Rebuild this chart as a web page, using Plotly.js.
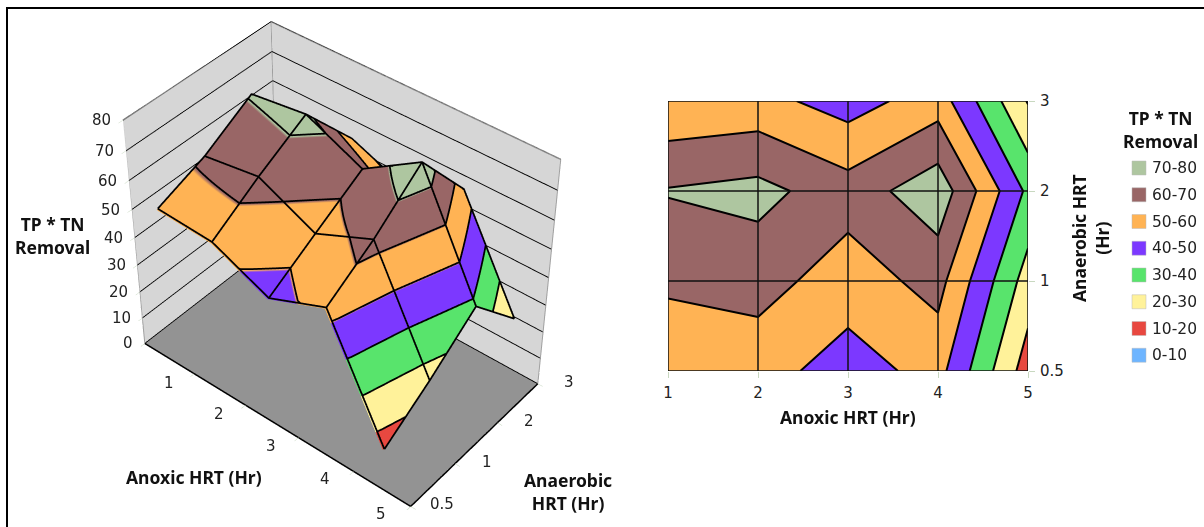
<!DOCTYPE html>
<html><head><meta charset="utf-8">
<script src="https://cdn.plot.ly/plotly-3.0.1.min.js"></script>
<style>html,body{margin:0;padding:0;background:#fff;overflow:hidden;width:1204px;height:527px}#chart{position:absolute;left:0;top:-500px;width:1204px;height:1527px}</style>
</head><body><div id="chart"></div>
<script>
const anoxic = [1, 2, 3, 4, 5];
const anaerobicLabels = ['0.5', '1', '2', '3'];
const anaerobicPos = [0, 1, 2, 3];
const row05 = [55, 54, 45.5, 53.6, 15];
const row1 = [61.2, 64, 54.9, 63.5, 25.5];
const row2 = [70.7, 73.1, 64.4, 76.4, 37.9];
const row3 = [51.4, 53.4, 45.5, 55.3, 19.3];
const removal = [row05, row1, row2, row3];
const bandLabels = ['70-80', '60-70', '50-60', '40-50', '30-40', '20-30', '10-20', '0-10'];
const bandColors = ['#AEC6A0', '#996666', '#FFB354', '#7C38FF', '#58E46C', '#FFF29A', '#E84840', '#6EB5FF'];
const zTicks = [0, 10, 20, 30, 40, 50, 60, 70, 80];
const levels = [10, 20, 30, 40, 50, 60, 70];
const xRange = [0.5, 5.5];
const xTickEdges = [0.5, 1.5, 2.5, 3.5, 4.5, 5.5];
const yRange = [0, 3];
const zRange = [0, 80];

const OFF = 500, W = 1204, H = 527 + 2 * OFF;
const px = v => v / W, py = v => 1 - (v + OFF) / H;
const n = bandColors.length;
const scale = [];
bandColors.slice().reverse().forEach((c, i) => { scale.push([i / n, c]); scale.push([(i + 1) / n, c]); });

const aspect = {x: 1.056, y: 0.6376, z: 0.878};
const eye = {x: 2.563, y: -3.121, z: 3.571};
const eyeLen = Math.hypot(eye.x, eye.y, eye.z);
// outlines are nudged toward the camera so they sit in front of the surface without moving on screen
const NUDGE = 0.012;
const dx = NUDGE * eye.x / eyeLen * (xRange[1] - xRange[0]) / aspect.x;
const dy = NUDGE * eye.y / eyeLen * (yRange[1] - yRange[0]) / aspect.y;
const dz = NUDGE * eye.z / eyeLen * (zRange[1] - zRange[0]) / aspect.z;
const clampY = v => Math.max(yRange[0], v);

const tickFont = {family: 'DejaVu Sans, sans-serif', size: 15, color: '#222'};
const titleFont = {family: 'Noto Sans, sans-serif', size: 17.5, color: '#111', weight: 700};

const surface = {
  type: 'surface', x: anoxic, y: anaerobicPos, z: removal, cmin: 0, cmax: 80,
  colorscale: scale, showscale: false, scene: 'scene', hoverinfo: 'skip',
  lighting: {ambient: 1, diffuse: 0, specular: 0, roughness: 1, fresnel: 0}
};
const line3d = (x, y, z, color, width) => ({type: 'scatter3d', mode: 'lines', x, y, z, hoverinfo: 'skip', showlegend: false, scene: 'scene', connectgaps: false, line: {color, width}});

const SUB = 8;
function zAt(i, j, u, v) {
  const a = removal[j][i], b = removal[j][i + 1], c = removal[j + 1][i], d = removal[j + 1][i + 1];
  return a * (1 - u) * (1 - v) + b * u * (1 - v) + c * (1 - u) * v + d * u * v;
}
const meshX = [], meshY = [], meshZ = [];
const addMesh = (a, p, z) => { meshX.push(a === null ? null : a + dx); meshY.push(p === null ? null : clampY(p + dy)); meshZ.push(z === null ? null : z + dz); };
anaerobicPos.forEach((p, j) => { anoxic.forEach((a, i) => addMesh(a, p, removal[j][i])); addMesh(null, null, null); });
anoxic.forEach((a, i) => { anaerobicPos.forEach((p, j) => addMesh(a, p, removal[j][i])); addMesh(null, null, null); });
const isoX = [], isoY = [], isoZ = [];
for (let j = 0; j < anaerobicPos.length - 1; j++) for (let i = 0; i < anoxic.length - 1; i++) {
  for (let s = 0; s < SUB; s++) for (let t = 0; t < SUB; t++) {
    const u0 = s / SUB, u1 = (s + 1) / SUB, v0 = t / SUB, v1 = (t + 1) / SUB;
    const corners = [[u0, v0], [u1, v0], [u1, v1], [u0, v1]].map(([u, v]) => [u, v, zAt(i, j, u, v)]);
    levels.forEach(L => {
      const hits = [];
      for (let k = 0; k < 4; k++) {
        const A = corners[k], B = corners[(k + 1) % 4];
        if ((A[2] - L) * (B[2] - L) < 0) {
          const f = (L - A[2]) / (B[2] - A[2]);
          hits.push([A[0] + f * (B[0] - A[0]), A[1] + f * (B[1] - A[1])]);
        }
      }
      if (hits.length >= 2) {
        hits.slice(0, 2).forEach(h => { isoX.push(anoxic[i] + h[0] + dx); isoY.push(clampY(anaerobicPos[j] + h[1] + dy)); isoZ.push(L + dz); });
        isoX.push(null); isoY.push(null); isoZ.push(null);
      }
    });
  }
}
const surfaceMesh = line3d(meshX, meshY, meshZ, '#000', 3.5);
const surfaceIso = line3d(isoX, isoY, isoZ, '#000', 3.5);
const wallTop = line3d([xRange[0], xRange[0], xRange[1]], [yRange[0], yRange[1], yRange[1]], [zRange[1], zRange[1], zRange[1]], '#8a8a8a', 3);
const wallEdges = line3d(
  [xRange[0], xRange[0], null, xRange[0], xRange[0], null, xRange[1], xRange[1]],
  [yRange[0], yRange[0], null, yRange[1], yRange[1], null, yRange[1], yRange[1]],
  [zRange[0], zRange[1], null, zRange[0], zRange[1], null, zRange[0], zRange[1]], '#a0a0a0', 2);
const floorEdges = line3d([xRange[0], xRange[1], xRange[1]], [yRange[0], yRange[0], yRange[1]], [zRange[0], zRange[0], zRange[0]], '#000', 3);

const contour = {
  type: 'contour', x: anoxic, y: anaerobicPos, z: removal, zmin: 0, zmax: 80,
  colorscale: scale, showscale: false, xaxis: 'x', yaxis: 'y', hoverinfo: 'skip',
  autocontour: false, contours: {start: 0, end: 80, size: 10, coloring: 'fill', showlines: true},
  line: {color: '#000', width: 2, smoothing: 0}
};
const gridX = {type: 'scatter', mode: 'lines', hoverinfo: 'skip', showlegend: false, line: {color: '#111', width: 1.5},
  x: anoxic.flatMap(a => [a, a, null]),
  y: anoxic.flatMap(() => [anaerobicPos[0], anaerobicPos[anaerobicPos.length - 1], null])};
const gridY = {type: 'scatter', mode: 'lines', hoverinfo: 'skip', showlegend: false, line: {color: '#111', width: 1.5},
  x: anaerobicPos.flatMap(() => [anoxic[0], anoxic[anoxic.length - 1], null]),
  y: anaerobicPos.flatMap(a => [a, a, null])};

const ann = (text, x, y, font, extra) => Object.assign({xref: 'paper', yref: 'paper', x: px(x), y: py(y), text, showarrow: false, font, xanchor: 'center', yanchor: 'middle'}, extra || {});
const annotations = [
  ann('TP * TN<br>Removal', 52, 235, titleFont),
  ann('Anoxic HRT (Hr)', 194, 477, titleFont),
  ann('Anaerobic<br>HRT (Hr)', 568, 492, titleFont),
  ann('TP * TN<br>Removal', 1160, 129.5, titleFont),
  ann('Anoxic HRT (Hr)', 848, 417, titleFont),
  ann('Anaerobic HRT<br>(Hr)', 1090, 238, titleFont, {textangle: -90})
];
const shapes = [
  {type: 'rect', xref: 'paper', yref: 'paper', x0: px(7), x1: px(1230), y0: py(8), y1: py(560), line: {color: '#000', width: 2}, fillcolor: 'rgba(0,0,0,0)'}
];
bandLabels.forEach((lab, i) => {
  const yc = 168 + i * 26.75;
  shapes.push({type: 'rect', xref: 'paper', yref: 'paper', x0: px(1132), x1: px(1146), y0: py(yc - 7), y1: py(yc + 7), fillcolor: bandColors[i], line: {color: '#bbb', width: 0.5}});
  annotations.push(ann(lab, 1150, yc, {family: 'DejaVu Sans, sans-serif', size: 15.5, color: '#222'}, {xanchor: 'left'}));
});

const sceneLabel = (text, x, y, z, xshift, yshift, xanchor) => ({x, y, z, text, showarrow: false, font: tickFont, xshift, yshift, xanchor: xanchor || 'center', yanchor: 'middle'});
const sceneAnnotations = [
  ...zTicks.map(t => sceneLabel(String(t), xRange[0], yRange[0], t, -9, 0, 'right')),
  ...anoxic.map(a => sceneLabel(String(a), a, yRange[0], zRange[0], 0, -25)),
  ...anaerobicPos.map((p, i) => sceneLabel(anaerobicLabels[i], xRange[1], p, zRange[0], 32, 2))
];

const axis3d = (extra) => Object.assign({
  showspikes: false, showgrid: false, showline: false, zeroline: false, title: {text: ''}, showticklabels: false,
  showbackground: true, backgroundcolor: '#D6D6D6', ticks: 'outside', ticklen: 5, tickcolor: '#c8d8c0'
}, extra);

const layout = {
  width: W, height: H, margin: {l: 0, r: 0, t: 0, b: 0}, paper_bgcolor: '#fff', plot_bgcolor: '#fff', showlegend: false,
  annotations, shapes,
  scene: {
    domain: {x: [px(26.5), px(650.5)], y: [12 / H, 1]},
    aspectmode: 'manual', aspectratio: aspect,
    camera: {eye, center: {x: 0, y: 0, z: 0}, up: {x: 0, y: 0, z: 1}},
    annotations: sceneAnnotations,
    xaxis: axis3d({range: xRange, tickvals: xTickEdges}),
    yaxis: axis3d({range: yRange, tickvals: anaerobicPos}),
    zaxis: axis3d({range: zRange, tickvals: zTicks, showgrid: true, gridcolor: '#000', gridwidth: 2, backgroundcolor: '#939393'})
  },
  xaxis: {domain: [px(668), px(1028)], range: [1, 5], tickvals: anoxic, ticks: 'outside', ticklen: 6, tickcolor: '#c8d8c0', tickfont: tickFont, ticklabelstandoff: 2, showgrid: false, zeroline: false, showline: false, anchor: 'y'},
  yaxis: {domain: [py(371), py(101)], range: [0, 3], tickvals: anaerobicPos, ticktext: anaerobicLabels, side: 'right', ticks: 'outside', ticklen: 6, tickcolor: '#c8d8c0', tickfont: tickFont, ticklabelstandoff: 2, showgrid: false, zeroline: false, showline: false, anchor: 'x'}
};
Plotly.newPlot('chart', [surface, surfaceMesh, surfaceIso, wallTop, wallEdges, floorEdges, contour, gridX, gridY], layout, {displayModeBar: false});
</script></body></html>
